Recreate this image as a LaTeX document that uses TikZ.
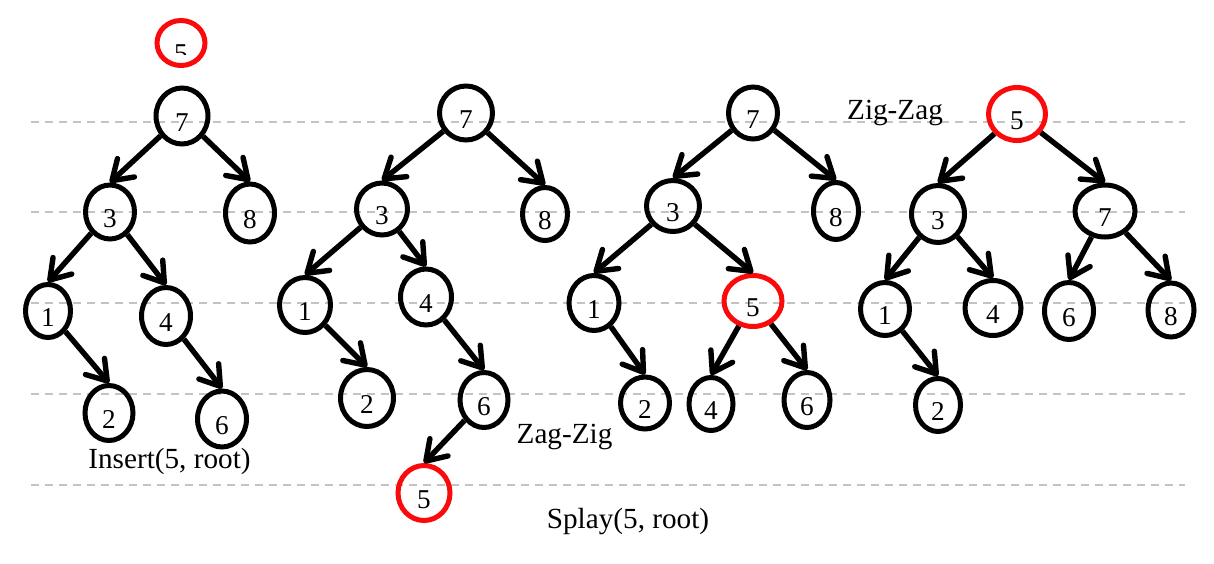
\documentclass[tikz,border=0pt]{standalone}
\usepackage{fontspec}
\setmainfont{Liberation Serif}
\usetikzlibrary{shapes.geometric,arrows.meta}
\definecolor{nodered}{RGB}{250,10,10}
\definecolor{guidegray}{RGB}{195,195,195}
\tikzset{
  nd/.style={ellipse, draw=black, line width=2.5pt, inner sep=0pt,
    text height=15pt, text depth=0pt,
    font=\fontsize{13.6}{16}\selectfont},
  sz/.style args={#1/#2}{minimum width=#1*0.5pt-2.5pt, minimum height=#2*0.5pt-2.5pt},
  rd/.style={draw=nodered},
  edge/.style={line width=2.7pt, -{Straight Barb[length=9.5pt,width=12.5pt,round]}},
  guide/.style={draw=guidegray, line width=1pt, dash pattern=on 4pt off 3pt},
  lbl/.style={anchor=base, inner sep=0pt, font=\fontsize{14.6}{17}\selectfont}
}
\begin{document}
\begin{tikzpicture}[x=0.5pt,y=-0.5pt]
\useasboundingbox (0,0) rectangle (1214,563);
% guide lines
\foreach \yy in {122,212,303,394,485}
  \draw[guide] (31,\yy) -- (1185,\yy);

% Tree 1
\node[nd,rd,sz=53/50] (a5) at (181,43) {};
\begin{scope}
  \clip (150,20) rectangle (212,54);
  \node[anchor=base, inner sep=0pt, font=\fontsize{13.6}{16}\selectfont] (a5t) at (181,62) {5};
\end{scope}
\node[nd,sz=57/61] (a7) at (182,116) {7};
\node[nd,sz=54/59] (a3) at (110,212) {3};
\node[nd,sz=54/63] (a8) at (250,213) {8};
\node[nd,sz=50/58] (a1) at (48,311) {1};
\node[nd,sz=54/62] (a4) at (166,316) {4};
\node[nd,sz=53/60] (a2) at (109,413) {2};
\node[nd,sz=54/61] (a6) at (222,419) {6};
\draw[edge] (a7) -- (a3.north);
\draw[edge] (a7) -- (a8.north);
\draw[edge] (a3) -- (a1.north);
\draw[edge] (a3) -- (a4.north);
\draw[edge] (a1) -- (a2.north);
\draw[edge] (a4) -- (a6.north);
\node[lbl] (t1) at (169.5,468) {Insert(5, root)};

% Tree 2
\node[nd,sz=58/59] (b7) at (466,113) {7};
\node[nd,sz=56/57] (b3) at (382,209) {3};
\node[nd,sz=50/58] (b8) at (545,214) {8};
\node[nd,sz=56/60] (b1) at (305,305) {1};
\node[nd,sz=56/61] (b4) at (426,297) {4};
\node[nd,sz=58/62] (b2) at (367,398) {2};
\node[nd,sz=53/60] (b6) at (484,400) {6};
\node[nd,rd,sz=57/60] (b5) at (424,493) {5};
\draw[edge] (b7) -- (b3.north);
\draw[edge] (b7) -- (b8.north);
\draw[edge] (b3) -- (b1.north);
\draw[edge] (b3) -- (b4.north);
\draw[edge] (b1) -- (b2.north);
\draw[edge] (b4) -- (b6.north);
\draw[edge] (b6) -- (b5.north);
\node[lbl] (t2) at (564.5,443) {Zag-Zig};
\node[lbl] (t3) at (628,528) {Splay(5, root)};

% Tree 3
\node[nd,sz=54/57] (c7) at (753,113) {7};
\node[nd,sz=58/56] (c3) at (673,206) {3};
\node[nd,sz=50/62] (c8) at (836,211) {8};
\node[nd,sz=55/60] (c1) at (594,303) {1};
\node[nd,rd,sz=63/56] (c5) at (753,301) {5};
\node[nd,sz=54/57] (c2) at (645,403) {2};
\node[nd,sz=49/58] (c4) at (711,404) {4};
\node[nd,sz=51/60] (c6) at (807,400) {6};
\draw[edge] (c7) -- (c3.north);
\draw[edge] (c7) -- (c8.north);
\draw[edge] (c3) -- (c1.north);
\draw[edge] (c3) -- (c5.north);
\draw[edge] (c1) -- (c2.north);
\draw[edge] (c5) -- (c4.north);
\draw[edge] (c5) -- (c6.north);
\node[lbl] (t4) at (895,119) {Zig-Zag};

% Tree 4
\node[nd,rd,sz=62/58] (d5) at (1017,114) {5};
\node[nd,sz=58/62] (d3) at (938,214) {3};
\node[nd,sz=65/57] (d7) at (1105,211) {7};
\node[nd,sz=54/58] (d1) at (885,309) {1};
\node[nd,sz=61/60] (d4) at (993,308) {4};
\node[nd,sz=54/62] (d6) at (1069,311) {6};
\node[nd,sz=51/59] (d8) at (1171,310) {8};
\node[nd,sz=50/58] (d2) at (938,405) {2};
\draw[edge] (d5) -- (d3.north);
\draw[edge] (d5) -- (d7.north);
\draw[edge] (d3) -- (d1.north);
\draw[edge] (d3) -- (d4.north);
\draw[edge] (d1) -- (d2.north);
\draw[edge] (d7) -- (d6.north);
\draw[edge] (d7) -- (d8.north);
\end{tikzpicture}
\end{document}
